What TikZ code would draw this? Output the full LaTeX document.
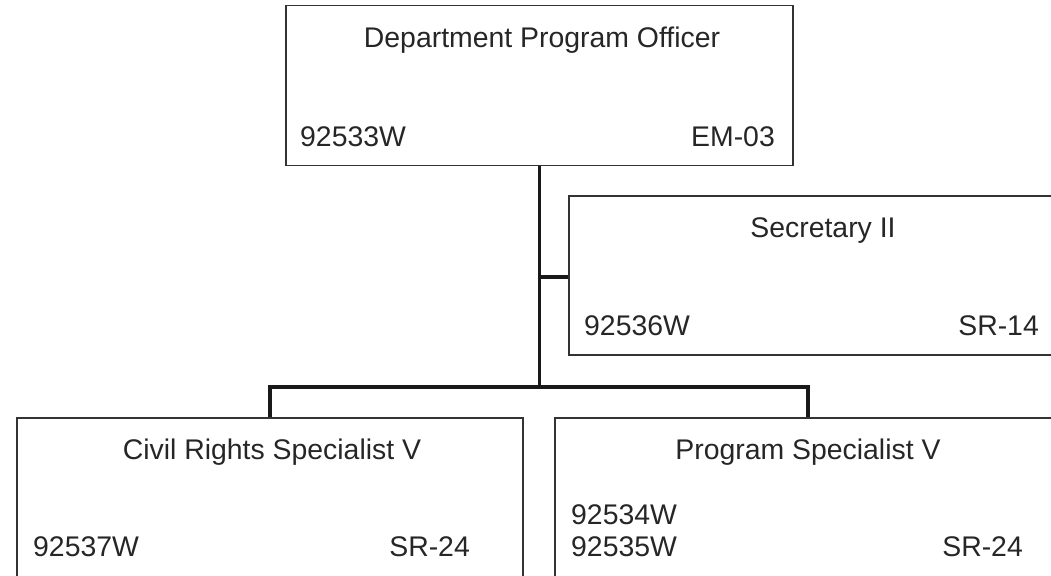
\documentclass[tikz,border=0pt]{standalone}
\usepackage{fontspec}
\setmainfont{Liberation Sans}
\usetikzlibrary{positioning}

\begin{document}
\begin{tikzpicture}[x=1pt, y=1pt,
    post/.style={rectangle, draw=black!80, line width=1.3pt, inner sep=0pt, minimum height=160pt},
    txt/.style={inner sep=0pt, text=black!85, font=\fontsize{28.4}{34}\selectfont},
    link/.style={draw=black!90, line width=3.5pt, line join=miter}]

    \useasboundingbox (0,0) rectangle (1051,575);

    % Position boxes
    \node[post, minimum width=507pt] (dpo) at (539.5,489.5) {};
    \node[post, minimum width=508pt, minimum height=159pt] (secr) at (823,299.5) {};
    \node[post, minimum width=506pt] (crs) at (270,77) {};
    \node[post, minimum width=506pt] (psv) at (808,77) {};

    % Titles, position numbers and grades
    \node[txt, anchor=base] (dpo-title) at (542,527) {Department Program Officer};
    \node[txt, anchor=base west] (dpo-id) at (300,428) {92533W};
    \node[txt, anchor=base east] (dpo-grade) at (775,428) {EM-03};

    \node[txt, anchor=base] (secr-title) at (823,337) {Secretary II};
    \node[txt, anchor=base west] (secr-id) at (584,239) {92536W};
    \node[txt, anchor=base east] (secr-grade) at (1039,239) {SR-14};

    \node[txt, anchor=base] (crs-title) at (272,115) {Civil Rights Specialist V};
    \node[txt, anchor=base west] (crs-id) at (33,18) {92537W};
    \node[txt, anchor=base east] (crs-grade) at (470,18) {SR-24};

    \node[txt, anchor=base] (psv-title) at (808,115) {Program Specialist V};
    \node[txt, anchor=base west] (psv-id1) at (571,50) {92534W};
    \node[txt, anchor=base west] (psv-id2) at (571,18) {92535W};
    \node[txt, anchor=base east] (psv-grade) at (1023,18) {SR-24};

    % Reporting lines
    \coordinate (bar) at (539.5,188);
    \coordinate (tap) at (539.5,298);
    \draw[link] (dpo.south) -- (bar);
    \draw[link] (tap) -- (tap -| secr.west);
    \draw[link] (crs.north) |- (bar) -| (psv.north);

\end{tikzpicture}
\end{document}
